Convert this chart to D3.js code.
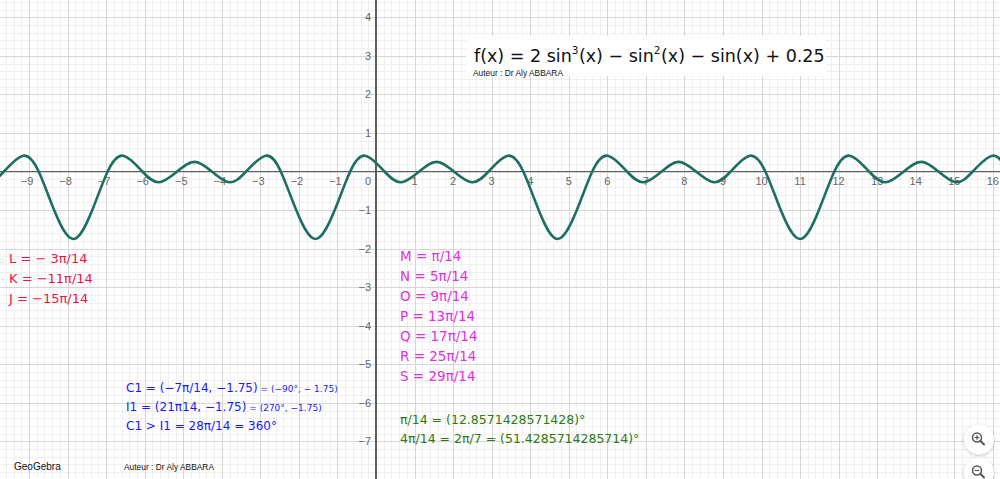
<!DOCTYPE html>
<html>
<head>
<meta charset="utf-8">
<script src="https://cdn.jsdelivr.net/npm/d3@7"></script>
<style>
  html, body { margin: 0; padding: 0; background: #fff; }
  svg { display: block; }
</style>
</head>
<body>
<div id="chart"></div>
<script>
// ---------- DATA ----------
// Curve f(x) = 2 sin^3(x) - sin^2(x) - sin(x) + 0.25 : characteristic points
const curveX = [-10.55, -10.08, -9.65, -9.15, -8.75, -8.35, -7.85, -7.36, -6.96, -6.56,
  -6.06, -5.63, -5.16, -4.71, -4.26, -3.80, -3.37, -2.86, -2.47, -2.07, -1.57, -1.07, -0.67, -0.28,
  0.22, 0.65, 1.12, 1.57, 2.02, 2.49, 2.92, 3.42, 3.82, 4.22, 4.71, 5.21, 5.61, 6.01,
  6.51, 6.94, 7.41, 7.85, 8.30, 8.77, 9.20, 9.70, 10.10, 10.50, 11.00, 11.49, 11.89, 12.29,
  12.79, 13.22, 13.69, 14.14, 14.59, 15.05, 15.48, 15.99, 16.38, 16.78];
const curveY = [0, -0.28, 0, 0.41, 0, -1, -1.75, -1, 0, 0.41,
  0, -0.28, 0, 0.25, 0, -0.28, 0, 0.41, 0, -1, -1.75, -1, 0, 0.41,
  0, -0.28, 0, 0.25, 0, -0.28, 0, 0.41, 0, -1, -1.75, -1, 0, 0.41,
  0, -0.28, 0, 0.25, 0, -0.28, 0, 0.41, 0, -1, -1.75, -1, 0, 0.41,
  0, -0.28, 0, 0.25, 0, -0.28, 0, 0.41, 0, -1];

const xTicks = [-9, -8, -7, -6, -5, -4, -3, -2, -1, 1, 2, 3, 4, 5, 6, 7, 8, 9, 10, 11, 12, 13, 14, 15, 16];
const yTicks = [-7, -6, -5, -4, -3, -2, -1, 1, 2, 3, 4];

const titleParts = [
  {t: "f(x) = 2 sin", sup: false}, {t: "3", sup: true}, {t: "(x) − sin", sup: false},
  {t: "2", sup: true}, {t: "(x) − sin(x) + 0.25", sup: false}];
const authorText = "Auteur : Dr Aly ABBARA";

const redLabels = ["L = − 3π/14", "K = −11π/14", "J = −15π/14"];
const magentaLabels = ["M = π/14", "N = 5π/14", "O = 9π/14", "P = 13π/14", "Q =  17π/14", "R = 25π/14", "S = 29π/14"];
const blueMain = ["C1 = (−7π/14, −1.75)", "I1 = (21π14, −1.75)", "C1 > I1 = 28π/14 = 360°"];
const blueSmall = [" = (−90°, − 1.75)", " = (270°, −1.75)", ""];
const greenLabels = ["π/14 = (12.8571428571428)°", "4π/14 = 2π/7 = (51.4285714285714)°"];

// ---------- LAYOUT ----------
const W = 1000, H = 479;
const unit = 38.55, ox = 376, oy = 171.5;
const x = d3.scaleLinear().domain([-ox / unit, (W - ox) / unit]).range([0, W]);
const y = d3.scaleLinear().domain([oy / unit, -(H - oy) / unit]).range([0, H]);

const svg = d3.select("#chart").append("svg").attr("width", W).attr("height", H);
svg.append("rect").attr("width", W).attr("height", H).attr("fill", "#fff");

// grid
const minorX = d3.range(Math.ceil(x.domain()[0] * 5), Math.floor(x.domain()[1] * 5) + 1).filter(v => v % 5 !== 0).map(v => v / 5);
const minorY = d3.range(Math.ceil(y.domain()[1] * 5), Math.floor(y.domain()[0] * 5) + 1).filter(v => v % 5 !== 0).map(v => v / 5);
const majorX = d3.range(Math.ceil(x.domain()[0]), Math.floor(x.domain()[1]) + 1);
const majorY = d3.range(Math.ceil(y.domain()[1]), Math.floor(y.domain()[0]) + 1);

const g = svg.append("g").attr("shape-rendering", "crispEdges");
g.selectAll(".mx").data(minorX).join("line").attr("x1", d => Math.round(x(d)) + 0.5).attr("x2", d => Math.round(x(d)) + 0.5)
  .attr("y1", 0).attr("y2", H).attr("stroke", "#efefef");
g.selectAll(".my").data(minorY).join("line").attr("y1", d => Math.round(y(d)) + 0.5).attr("y2", d => Math.round(y(d)) + 0.5)
  .attr("x1", 0).attr("x2", W).attr("stroke", "#efefef");
g.selectAll(".Mx").data(majorX).join("line").attr("x1", d => Math.round(x(d)) + 0.5).attr("x2", d => Math.round(x(d)) + 0.5)
  .attr("y1", 0).attr("y2", H).attr("stroke", "#d6d6d6").attr("stroke-width", 1.2);
g.selectAll(".My").data(majorY).join("line").attr("y1", d => Math.round(y(d)) + 0.5).attr("y2", d => Math.round(y(d)) + 0.5)
  .attr("x1", 0).attr("x2", W).attr("stroke", "#d6d6d6").attr("stroke-width", 1.2);

// axes
g.append("line").attr("x1", 0).attr("x2", W).attr("y1", y(0)).attr("y2", y(0)).attr("stroke", "#5e5e5e").attr("stroke-width", 1.5);
g.append("line").attr("y1", 0).attr("y2", H).attr("x1", x(0)).attr("x2", x(0)).attr("stroke", "#5e5e5e").attr("stroke-width", 1.5);

const tickFont = "'Liberation Sans', Arial, sans-serif";
const fmt = v => (v < 0 ? "−" + Math.abs(v) : String(v));
svg.selectAll(".xl").data(xTicks).join("text")
  .attr("x", d => x(d) - (d < 0 ? 2 : 0)).attr("y", y(0) + 13)
  .attr("text-anchor", "middle").attr("font-family", tickFont).attr("font-size", 11).attr("fill", "#666")
  .text(fmt);
svg.selectAll(".yl").data(yTicks).join("text")
  .attr("x", x(0) - 5).attr("y", d => y(d) + 4)
  .attr("text-anchor", "end").attr("font-family", tickFont).attr("font-size", 11).attr("fill", "#666")
  .text(fmt);
svg.append("text").attr("x", x(0) - 5).attr("y", y(0) + 13).attr("text-anchor", "end")
  .attr("font-family", tickFont).attr("font-size", 11).attr("fill", "#666").text("0");

// curve
const pts = curveX.map((v, i) => [v, curveY[i]]);
const line = d3.line().x(d => x(d[0])).y(d => y(d[1])).curve(d3.curveNatural);
svg.append("path").attr("d", line(pts)).attr("fill", "none").attr("stroke", "#1d6f62").attr("stroke-width", 2.6)
  .attr("stroke-linejoin", "round");

// title box
svg.append("rect").attr("x", 466).attr("y", 36).attr("width", 360).attr("height", 40).attr("fill", "#fff");
let tx = 474;
titleParts.forEach(p => {
  const t = svg.append("text").attr("x", tx).attr("y", p.sup ? 54 : 62)
    .attr("font-family", "'DejaVu Sans', sans-serif").attr("font-size", p.sup ? 10.5 : 17.5).attr("fill", "#111")
    .attr("xml:space", "preserve").style("white-space", "pre").text(p.t);
  tx += t.node().getComputedTextLength() + (p.sup ? 0.5 : 0);
});
svg.append("text").attr("x", 473).attr("y", 76).attr("font-family", "'Liberation Sans', Arial, sans-serif")
  .attr("font-size", 9).attr("fill", "#111").attr("textLength", 90).attr("lengthAdjust", "spacingAndGlyphs")
  .text(authorText);

const labelFont = "'DejaVu Sans', sans-serif";
// red labels
svg.selectAll(".red").data(redLabels).join("text")
  .attr("x", 9).attr("y", (d, i) => 262.5 + i * 20)
  .attr("font-family", labelFont).attr("font-size", 13).attr("fill", "#ee1346")
  .text(d => d);

// magenta labels
svg.selectAll(".mag").data(magentaLabels).join("text")
  .attr("x", 400).attr("y", (d, i) => 260.7 + i * 20.1)
  .attr("font-family", labelFont).attr("font-size", 13.5).attr("fill", "#dd33dd")
  .text(d => d);

// blue labels
blueMain.forEach((t, i) => {
  const bt = svg.append("text").attr("x", 126).attr("y", 391.5 + i * 19)
    .attr("font-family", labelFont).attr("fill", "#1a1aff");
  bt.append("tspan").attr("font-size", 12).text(t);
  if (blueSmall[i]) bt.append("tspan").attr("font-size", 9).text(blueSmall[i]);
});

// green labels
svg.selectAll(".grn").data(greenLabels).join("text")
  .attr("x", 400).attr("y", (d, i) => 423.5 + i * 19)
  .attr("font-family", labelFont).attr("font-size", 12.5).attr("fill", "#2e7a12")
  .text(d => d);

// footer
svg.append("text").attr("x", 14).attr("y", 470).attr("font-family", "'Liberation Sans', Arial, sans-serif")
  .attr("font-size", 10).attr("fill", "#111").text("GeoGebra");
svg.append("text").attr("x", 124).attr("y", 470).attr("font-family", "'Liberation Sans', Arial, sans-serif")
  .attr("font-size", 9).attr("fill", "#111").attr("textLength", 90).attr("lengthAdjust", "spacingAndGlyphs").text(authorText);

// zoom buttons
const defs = svg.append("defs");
const f = defs.append("filter").attr("id", "sh").attr("x", "-50%").attr("y", "-50%").attr("width", "200%").attr("height", "200%");
f.append("feDropShadow").attr("dx", 0).attr("dy", 1).attr("stdDeviation", 1.5).attr("flood-color", "#000").attr("flood-opacity", 0.25);
[{cy: 439.5, plus: true}, {cy: 472.5, plus: false}].forEach(b => {
  const bg = svg.append("g").attr("transform", `translate(979,${b.cy})`);
  bg.append("circle").attr("r", 15).attr("fill", "#fff").attr("filter", "url(#sh)");
  bg.append("circle").attr("cx", -2).attr("cy", -2).attr("r", 4.5).attr("fill", "none").attr("stroke", "#555").attr("stroke-width", 1.5);
  bg.append("line").attr("x1", 1.3).attr("y1", 1.3).attr("x2", 5).attr("y2", 5).attr("stroke", "#555").attr("stroke-width", 2).attr("stroke-linecap", "round");
  bg.append("line").attr("x1", -4.3).attr("x2", 0.3).attr("y1", -2).attr("y2", -2).attr("stroke", "#555").attr("stroke-width", 1.2);
  if (b.plus) bg.append("line").attr("x1", -2).attr("x2", -2).attr("y1", -4.3).attr("y2", 0.3).attr("stroke", "#555").attr("stroke-width", 1.2);
});
</script>
</body>
</html>
